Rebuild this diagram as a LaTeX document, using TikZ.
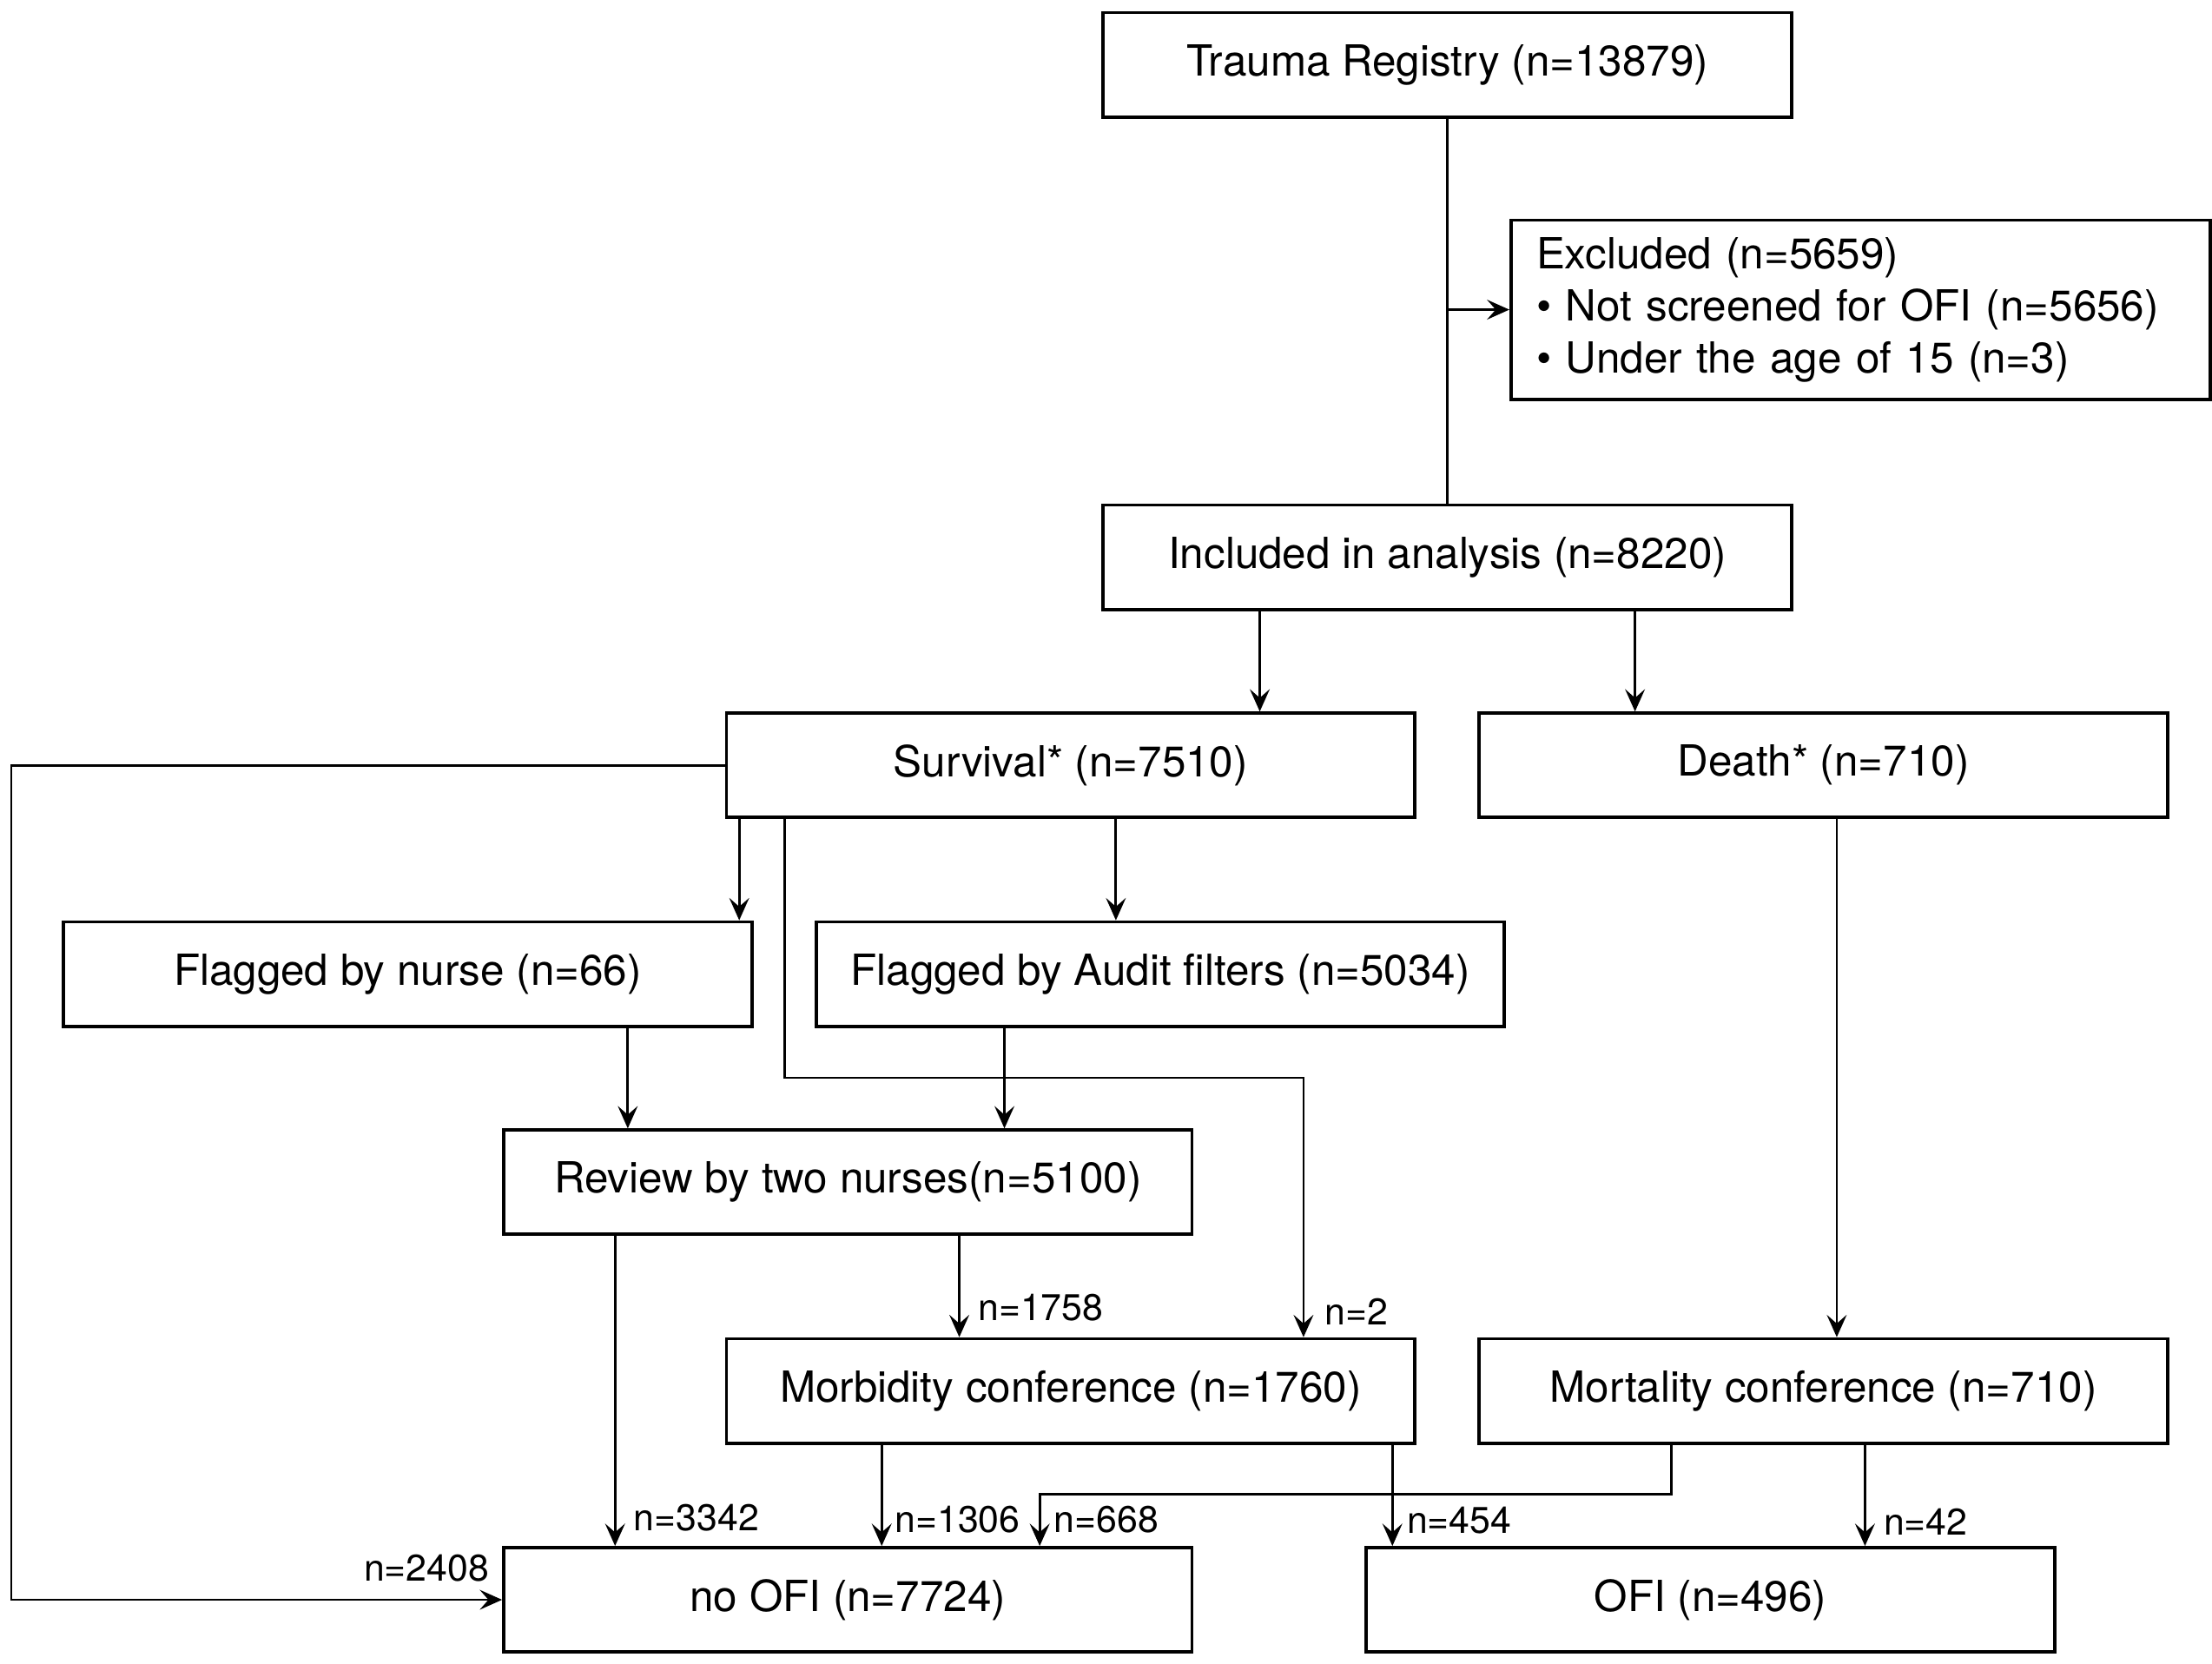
\documentclass[tikz,border=0pt]{standalone}
\usepackage{fontspec}
\setmainfont{TeX Gyre Heros}
\usepackage{tikz}
\usetikzlibrary{arrows.meta, positioning}

\begin{document}
\begin{tikzpicture}[
  x=0.02cm, y=-0.02cm,
  every node/.style={font=\fontsize{17.3}{21}\selectfont},
  flowbox/.style={
    rectangle, draw=black, line width=1.3pt,
    minimum width=9.76cm, minimum height=1.48cm,
    inner sep=0pt, align=center},
  listbox/.style={
    rectangle, draw=black, line width=1.3pt,
    text width=9.2cm, inner xsep=0.36cm, inner ysep=0pt,
    minimum height=2.54cm, align=left},
  nlbl/.style={font=\fontsize{15}{18}\selectfont, inner sep=0pt, anchor=base west},
  link/.style={line width=1pt},
  arr/.style={-{Stealth[length=9pt,width=8pt,inset=3.5pt]}, line width=1pt}
]
\useasboundingbox (0,0) rectangle (1568,1179);

%% ── BOXES ────────────────────────────────────────────────
\node[flowbox] (registry) at (1026,46)    {Trauma Registry (n=13879)};
\node[listbox] (excluded) at (1319,219.5) {Excluded (n=5659)\\
                                           • Not screened for OFI (n=5656)\\
                                           • Under the age of 15 (n=3)};
\node[flowbox] (included) at (1026,395)   {Included in analysis (n=8220)};
\node[flowbox] (survival) at (759,542.5)  {Survival* (n=7510)};
\node[flowbox] (death)    at (1292.5,542.5) {Death* (n=710)};
\node[flowbox] (nurse)    at (289,690.5)  {Flagged by nurse (n=66)};
\node[flowbox] (audit)    at (822.5,690.5) {Flagged by Audit filters (n=5034)};
\node[flowbox] (review)   at (601,838)    {Review by two nurses(n=5100)};
\node[flowbox] (morbid)   at (759,986)    {Morbidity conference (n=1760)};
\node[flowbox] (mortal)   at (1292.5,986) {Mortality conference (n=710)};
\node[flowbox] (noofi)    at (601,1134)   {no OFI (n=7724)};
\node[flowbox] (ofi)      at (1212.5,1134) {OFI (n=496)};

%% ── CONNECTOR COLUMNS ────────────────────────────────────
\coordinate (xsurv)  at (893,0);
\coordinate (xdeath) at (1159,0);
\coordinate (xrail)  at (8,0);
\coordinate (xnurse) at (524,0);
\coordinate (xaudit) at (791,0);
\coordinate (xnr)    at (445,0);
\coordinate (xar)    at (712,0);
\coordinate (xrno)   at (436,0);
\coordinate (xrmo)   at (680,0);
\coordinate (xmno)   at (625,0);
\coordinate (xmofi)  at (987,0);
\coordinate (xdm)    at (1302,0);
\coordinate (xtofi)  at (1322,0);
\coordinate (k1) at (556,764);
\coordinate (k2) at (924,764);
\coordinate (k3) at (1185,1059);
\coordinate (k4) at (737,1059);

%% ── CONNECTORS ───────────────────────────────────────────
\draw[link] (registry.south) -- (included.north);
\draw[arr]  (excluded.west -| registry.south) -- (excluded.west);
\draw[arr]  (included.south -| xsurv)  -- (survival.north -| xsurv);
\draw[arr]  (included.south -| xdeath) -- (death.north -| xdeath);

\draw[arr] (survival.west) -- (survival.west -| xrail) |- (noofi.west);
\draw[arr] (survival.south -| xnurse) -- (nurse.north -| xnurse);
\draw[arr] (survival.south -| xaudit) -- (audit.north -| xaudit);
\draw[arr] (survival.south -| k1) -- (k1) -- (k2) -- (morbid.north -| k2);

\draw[arr] (nurse.south -| xnr) -- (review.north -| xnr);
\draw[arr] (audit.south -| xar) -- (review.north -| xar);

\draw[arr] (review.south -| xrno) -- (noofi.north -| xrno);
\draw[arr] (review.south -| xrmo) -- (morbid.north -| xrmo);

\draw[arr] (death.south -| xdm) -- (mortal.north -| xdm);

\draw[arr] (morbid.south -| xmno)  -- (noofi.north -| xmno);
\draw[arr] (morbid.south -| xmofi) -- (ofi.north -| xmofi);
\draw[arr] (mortal.south -| k3) -- (k3) -- (k4) -- (noofi.north -| k4);
\draw[arr] (mortal.south -| xtofi) -- (ofi.north -| xtofi);

%% ── COUNT LABELS ─────────────────────────────────────────
\node[nlbl, anchor=base east] (l2408) at (347,1121) {n=2408};
\node[nlbl] (l3342) at (449,1085) {n=3342};
\node[nlbl] (l1758) at (693,936)  {n=1758};
\node[nlbl] (l2)    at (939,939)  {n=2};
\node[nlbl] (l1306) at (634,1086) {n=1306};
\node[nlbl] (l668)  at (747,1086) {n=668};
\node[nlbl] (l454)  at (997,1087) {n=454};
\node[nlbl] (l42)   at (1335,1088) {n=42};

\end{tikzpicture}
\end{document}
